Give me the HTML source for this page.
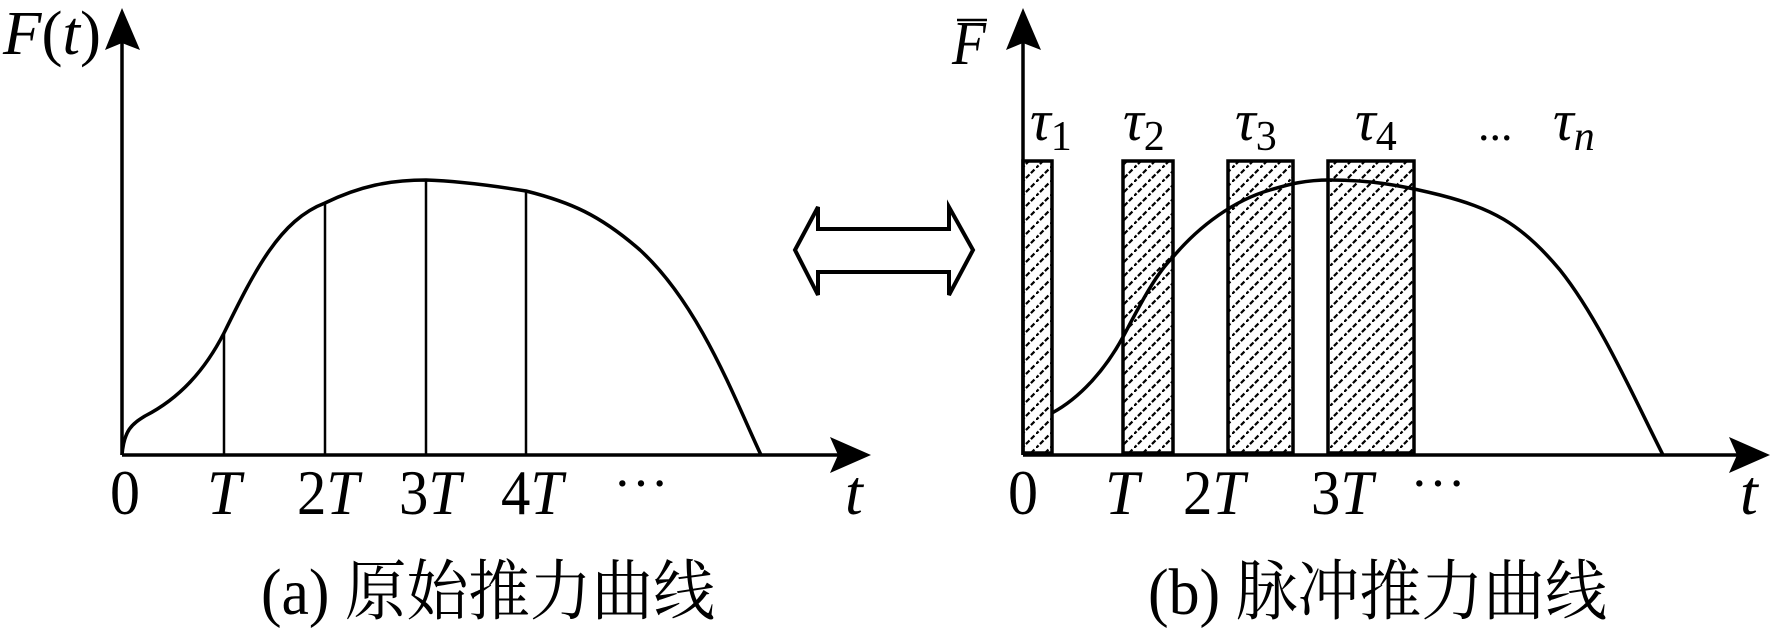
<!DOCTYPE html>
<html><head><meta charset="utf-8"><style>
html,body{margin:0;padding:0;background:#fff;}
svg{display:block;}
text{font-family:"Liberation Serif","Noto Serif CJK SC",serif;fill:#000;}
.i{font-style:italic;}
</style></head><body>
<svg width="1772" height="638" viewBox="0 0 1772 638" xmlns="http://www.w3.org/2000/svg">
<defs>
<pattern id="h" patternUnits="userSpaceOnUse" width="14" height="14">
<path d="M-1,15 L15,-1" stroke="#000" stroke-width="2.2" stroke-dasharray="5,2"/>
</pattern>
</defs>
<g stroke="#000" fill="none" stroke-width="3.5">
<line x1="122" y1="455" x2="122" y2="40"/>
<line x1="122" y1="455" x2="840" y2="455"/>
<line x1="224" y1="455" x2="224" y2="333" stroke-width="2.5"/>
<line x1="325" y1="455" x2="325" y2="203" stroke-width="2.5"/>
<line x1="426" y1="455" x2="426" y2="180" stroke-width="2.5"/>
<line x1="526" y1="455" x2="526" y2="191" stroke-width="2.5"/>
<path d="M122,455 C124,430 132,424 145,416 C180,398 205,370 224,333 C255,270 280,220 325,203 C360,186 390,180 426,180 C460,181 495,186 526,191 C570,202 600,215 640,250 C700,305 735,400 761,455"/>
<line x1="1023" y1="455" x2="1023" y2="40"/>
<line x1="1023" y1="455" x2="1740" y2="455"/>
<rect x="1023" y="161" width="29" height="292" fill="url(#h)"/>
<rect x="1123" y="161" width="50" height="292" fill="url(#h)"/>
<rect x="1228" y="161" width="65" height="292" fill="url(#h)"/>
<rect x="1328" y="161" width="86" height="292" fill="url(#h)"/>
<path d="M1052,413 C1080,398 1105,370 1123,337 C1140,305 1155,275 1173,257 C1200,225 1235,200 1270,190 C1290,184 1305,180 1330,180 C1370,180 1400,185 1440,195 C1490,208 1520,222 1560,270 C1600,320 1635,400 1663,455"/>
<path d="M795,250 L818,207 L818,229 L949,229 L949,207 L973,250 L949,295 L949,272 L818,272 L818,295 Z" stroke-width="4" stroke-linejoin="miter"/>
</g>
<g fill="#000">
<polygon points="122,8 105,50 122,43 140,50"/>
<polygon points="1023,8 1006,50 1023,43 1041,50"/>
<polygon points="871,455 830,437 838,455 830,473"/>
<polygon points="1770,455 1729,437 1737,455 1729,473"/>
</g>
<g font-size="62">
<text x="3" y="54" textLength="98" lengthAdjust="spacingAndGlyphs"><tspan class="i">F</tspan>(<tspan class="i">t</tspan>)</text>
<text x="952" y="64" class="i" textLength="34" lengthAdjust="spacingAndGlyphs">F</text>
</g>
<line x1="957" y1="20" x2="987" y2="20" stroke="#000" stroke-width="2.5"/>
<g font-size="64">
<text x="110" y="514" textLength="30" lengthAdjust="spacingAndGlyphs">0</text>
<text x="207" y="514" class="i" textLength="34" lengthAdjust="spacingAndGlyphs">T</text>
<text x="297" y="514" textLength="62" lengthAdjust="spacingAndGlyphs">2<tspan class="i">T</tspan></text>
<text x="399" y="514" textLength="62" lengthAdjust="spacingAndGlyphs">3<tspan class="i">T</tspan></text>
<text x="501" y="514" textLength="62" lengthAdjust="spacingAndGlyphs">4<tspan class="i">T</tspan></text>
<text x="613" y="505" font-size="56">⋯</text>
<text x="845" y="514" class="i">t</text>
<text x="1008" y="514" textLength="30" lengthAdjust="spacingAndGlyphs">0</text>
<text x="1105" y="514" class="i" textLength="34" lengthAdjust="spacingAndGlyphs">T</text>
<text x="1183" y="514" textLength="62" lengthAdjust="spacingAndGlyphs">2<tspan class="i">T</tspan></text>
<text x="1311" y="514" textLength="62" lengthAdjust="spacingAndGlyphs">3<tspan class="i">T</tspan></text>
<text x="1410" y="505" font-size="56">⋯</text>
<text x="1740" y="514" class="i">t</text>
</g>
<g font-size="58">
<text x="1030" y="140"><tspan class="i">τ</tspan><tspan font-size="42" dy="10">1</tspan></text>
<text x="1123" y="140"><tspan class="i">τ</tspan><tspan font-size="42" dy="10">2</tspan></text>
<text x="1235" y="140"><tspan class="i">τ</tspan><tspan font-size="42" dy="10">3</tspan></text>
<text x="1355" y="140"><tspan class="i">τ</tspan><tspan font-size="42" dy="10">4</tspan></text>
<text x="1478" y="140" font-size="46">...</text>
<text x="1553" y="140"><tspan class="i">τ</tspan><tspan font-size="42" dy="10" class="i">n</tspan></text>
</g>
<g font-size="66">
<text x="261" y="614" textLength="454" lengthAdjust="spacingAndGlyphs">(a) 原始推力曲线</text>
<text x="1148" y="614" textLength="459" lengthAdjust="spacingAndGlyphs">(b) 脉冲推力曲线</text>
</g>
</svg>
</body></html>
